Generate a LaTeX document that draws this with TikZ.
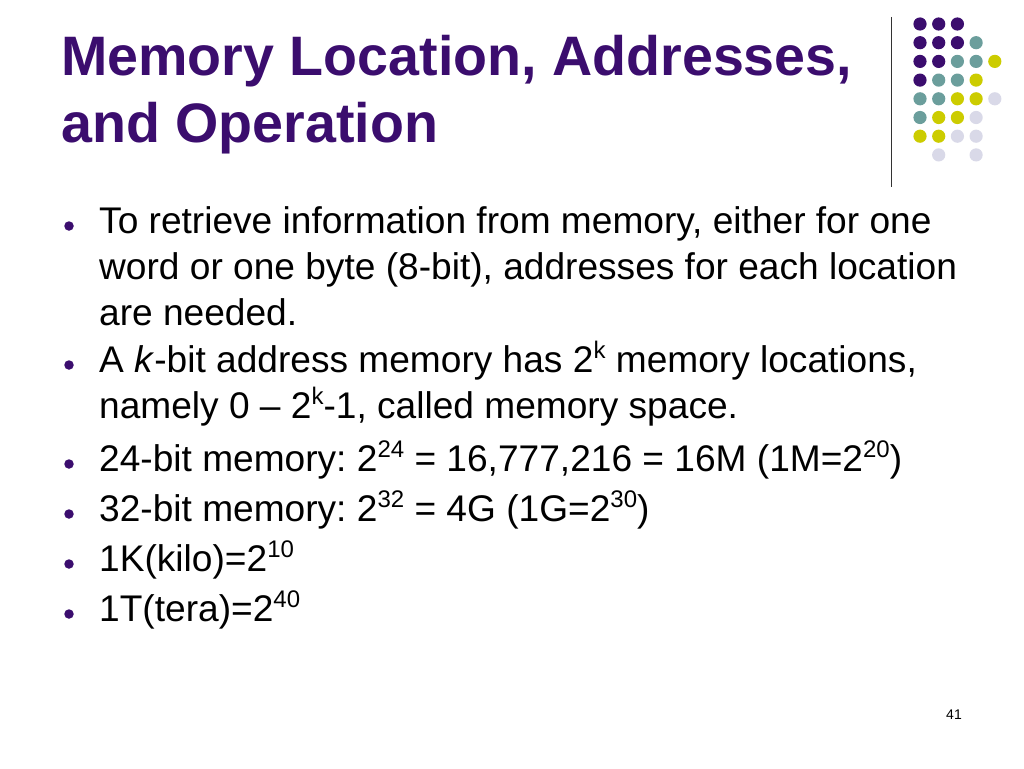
\documentclass[tikz,border=0pt]{standalone}
\usepackage{fontspec}
\setmainfont{Liberation Sans}
\frenchspacing
\definecolor{slidepurple}{HTML}{3B0D6E}
\definecolor{slideteal}{HTML}{6B9E9C}
\definecolor{slideyellow}{HTML}{CCCC00}
\definecolor{slidelilac}{HTML}{D9D9E8}
\newcommand{\pwr}[1]{\raisebox{0.36em}{\fontsize{24}{24}\selectfont #1}}
\begin{document}
\begin{tikzpicture}[x=1pt, y=-1pt,
    titletext/.style={anchor=base west, inner sep=0pt, text=slidepurple,
      font=\fontsize{55.6}{66}\selectfont\bfseries},
    bodytext/.style={anchor=base west, inner sep=0pt,
      font=\fontsize{37.1}{46}\selectfont},
    bulletdot/.style={circle, fill=slidepurple, inner sep=0pt, minimum size=9.5pt}]
  \useasboundingbox (0,0) rectangle (1024,768);
  \node[titletext] (title1) at (61,75) {Memory Location, Addresses,};
  \node[titletext] (title2) at (61,142) {and Operation};
  \draw[line width=1.2pt, black!80] (891.7,17) -- (891.7,187);
  \begin{scope}[shift={(920,24)}, x=18.7pt, y=-18.7pt]
    \fill[slidepurple] (0,0) circle (6.6pt) (1,0) circle (6.6pt) (2,0) circle (6.6pt)
      (0,1) circle (6.6pt) (1,1) circle (6.6pt) (2,1) circle (6.6pt)
      (0,2) circle (6.6pt) (1,2) circle (6.6pt) (0,3) circle (6.6pt);
    \fill[slideteal] (3,1) circle (6.6pt) (2,2) circle (6.6pt) (3,2) circle (6.6pt)
      (1,3) circle (6.6pt) (2,3) circle (6.6pt) (0,4) circle (6.6pt)
      (1,4) circle (6.6pt) (0,5) circle (6.6pt);
    \fill[slideyellow] (4,2) circle (6.6pt) (3,3) circle (6.6pt) (2,4) circle (6.6pt)
      (3,4) circle (6.6pt) (1,5) circle (6.6pt) (2,5) circle (6.6pt)
      (0,6) circle (6.6pt) (1,6) circle (6.6pt);
    \fill[slidelilac] (4,4) circle (6.6pt) (3,5) circle (6.6pt) (2,6) circle (6.6pt)
      (3,6) circle (6.6pt) (1,7) circle (6.6pt) (3,7) circle (6.6pt);
  \end{scope}
  \node[bodytext] (t1) at (99,233) {To retrieve information from memory, either for one};
  \node[bodytext] (t2) at (99,279) {word or one byte (8-bit), addresses for each location};
  \node[bodytext] (t3) at (99,325) {are needed.};
  \node[bodytext] (t4) at (99,372) {A \textit{k}-bit address memory has 2\pwr{k} memory locations,};
  \node[bodytext] (t5) at (99,418) {namely 0 -- 2\pwr{k}-1, called memory space.};
  \node[bodytext] (t6) at (99,471) {24-bit memory: 2\pwr{24} = 16,777,216 = 16M (1M=2\pwr{20})};
  \node[bodytext] (t7) at (99,521) {32-bit memory: 2\pwr{32} = 4G (1G=2\pwr{30})};
  \node[bodytext] (t8) at (99,571) {1K(kilo)=2\pwr{10}};
  \node[bodytext] (t9) at (99,621) {1T(tera)=2\pwr{40}};
  \node[bulletdot] (b1) at (69,226) {};
  \node[bulletdot] (b2) at (69,365) {};
  \node[bulletdot] (b3) at (69,464) {};
  \node[bulletdot] (b4) at (69,514) {};
  \node[bulletdot] (b5) at (69,564) {};
  \node[bulletdot] (b6) at (69,614) {};
  \node[anchor=base west, inner sep=0pt, font=\fontsize{14}{16}\selectfont]
    (pagenum) at (946,719) {41};
\end{tikzpicture}
\end{document}
